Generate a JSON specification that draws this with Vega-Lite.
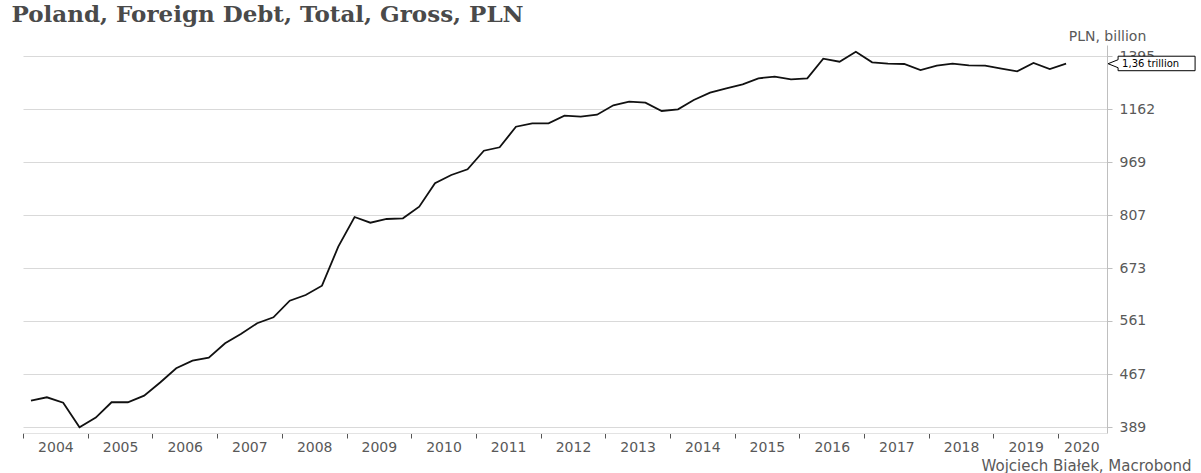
{
  "$schema": "https://vega.github.io/schema/vega-lite/v6.json",
  "width": 1084,
  "height": 388,
  "autosize": {"type": "none"},
  "padding": {"left": 23, "top": 45, "right": 94, "bottom": 40},
  "background": "white",
  "title": {
    "text": "Poland, Foreign Debt, Total, Gross, PLN",
    "anchor": "start",
    "font": "DejaVu Serif",
    "fontWeight": "bold",
    "fontSize": 23,
    "color": "#4a4a4a",
    "dx": -11,
    "offset": 2
  },
  "config": {
    "view": {"stroke": null},
    "axis": {"labelFont": "DejaVu Sans", "titleFont": "DejaVu Sans"}
  },
  "resolve": {"axis": {"x": "independent"}},
  "layer": [
    {
      "data": {
        "values": [
          {"date": "2004-02-15", "value": 426.3},
          {"date": "2004-05-15", "value": 431.3},
          {"date": "2004-08-15", "value": 423.4},
          {"date": "2004-11-15", "value": 389.0},
          {"date": "2005-02-15", "value": 402.1},
          {"date": "2005-05-15", "value": 424.0},
          {"date": "2005-08-15", "value": 424.0},
          {"date": "2005-11-15", "value": 433.7},
          {"date": "2006-02-15", "value": 454.2},
          {"date": "2006-05-15", "value": 476.6},
          {"date": "2006-08-15", "value": 489.2},
          {"date": "2006-11-15", "value": 494.3},
          {"date": "2007-02-15", "value": 519.4},
          {"date": "2007-05-15", "value": 536.3},
          {"date": "2007-08-15", "value": 556.5},
          {"date": "2007-11-15", "value": 568.1},
          {"date": "2008-02-15", "value": 601.5},
          {"date": "2008-05-15", "value": 613.4},
          {"date": "2008-08-15", "value": 633.3},
          {"date": "2008-11-15", "value": 724.4},
          {"date": "2009-02-15", "value": 802.3},
          {"date": "2009-05-15", "value": 786.7},
          {"date": "2009-08-15", "value": 796.8},
          {"date": "2009-11-15", "value": 798.7},
          {"date": "2010-02-15", "value": 831.3},
          {"date": "2010-05-15", "value": 901.0},
          {"date": "2010-08-15", "value": 927.1},
          {"date": "2010-11-15", "value": 945.5},
          {"date": "2011-02-15", "value": 1008.0},
          {"date": "2011-05-15", "value": 1019.9},
          {"date": "2011-08-15", "value": 1094.8},
          {"date": "2011-11-15", "value": 1107.7},
          {"date": "2012-02-15", "value": 1107.7},
          {"date": "2012-05-15", "value": 1137.0},
          {"date": "2012-08-15", "value": 1133.2},
          {"date": "2012-11-15", "value": 1141.0},
          {"date": "2013-02-15", "value": 1178.5},
          {"date": "2013-05-15", "value": 1193.2},
          {"date": "2013-08-15", "value": 1189.1},
          {"date": "2013-11-15", "value": 1155.6},
          {"date": "2014-02-15", "value": 1162.4},
          {"date": "2014-05-15", "value": 1200.2},
          {"date": "2014-08-15", "value": 1230.7},
          {"date": "2014-11-15", "value": 1249.5},
          {"date": "2015-02-15", "value": 1266.8},
          {"date": "2015-05-15", "value": 1293.3},
          {"date": "2015-08-15", "value": 1300.4},
          {"date": "2015-11-15", "value": 1288.8},
          {"date": "2016-02-15", "value": 1293.3},
          {"date": "2016-05-15", "value": 1383.5},
          {"date": "2016-08-15", "value": 1369.3},
          {"date": "2016-11-15", "value": 1417.3},
          {"date": "2017-02-15", "value": 1366.5},
          {"date": "2017-05-15", "value": 1359.9},
          {"date": "2017-08-15", "value": 1358.5},
          {"date": "2017-11-15", "value": 1330.7},
          {"date": "2018-02-15", "value": 1350.6},
          {"date": "2018-05-15", "value": 1359.9},
          {"date": "2018-08-15", "value": 1352.4},
          {"date": "2018-11-15", "value": 1350.6},
          {"date": "2019-02-15", "value": 1336.7},
          {"date": "2019-05-15", "value": 1324.8},
          {"date": "2019-08-15", "value": 1363.2},
          {"date": "2019-11-15", "value": 1335.3},
          {"date": "2020-02-15", "value": 1359.9}
        ]
      },
      "mark": {"type": "line", "color": "#111111", "strokeWidth": 1.8},
      "encoding": {
        "x": {
          "field": "date",
          "type": "temporal",
          "scale": {"domain": [{"year": 2004, "month": 1, "date": 1}, {"year": 2020, "month": 10, "date": 3}]},
          "axis": {
            "orient": "bottom",
            "values": [
              {"year": 2004, "month": 1, "date": 1}, {"year": 2005, "month": 1, "date": 1},
              {"year": 2006, "month": 1, "date": 1}, {"year": 2007, "month": 1, "date": 1},
              {"year": 2008, "month": 1, "date": 1}, {"year": 2009, "month": 1, "date": 1},
              {"year": 2010, "month": 1, "date": 1}, {"year": 2011, "month": 1, "date": 1},
              {"year": 2012, "month": 1, "date": 1}, {"year": 2013, "month": 1, "date": 1},
              {"year": 2014, "month": 1, "date": 1}, {"year": 2015, "month": 1, "date": 1},
              {"year": 2016, "month": 1, "date": 1}, {"year": 2017, "month": 1, "date": 1},
              {"year": 2018, "month": 1, "date": 1}, {"year": 2019, "month": 1, "date": 1},
              {"year": 2020, "month": 1, "date": 1}
            ],
            "labels": false,
            "ticks": true,
            "tickSize": 5,
            "tickColor": "#555555",
            "domainColor": "#e3e3e3",
            "grid": false,
            "title": null
          }
        },
        "y": {
          "field": "value",
          "type": "quantitative",
          "scale": {"type": "log", "domain": [381.4, 1450.4], "nice": false, "zero": false},
          "axis": {
            "orient": "right",
            "values": [389, 467, 561, 673, 807, 969, 1162, 1395],
            "format": "d",
            "grid": true,
            "gridColor": "#d9d9d9",
            "domainColor": "#bfbfbf",
            "tickColor": "#bfbfbf",
            "tickSize": 5,
            "labelPadding": 7,
            "labelFontSize": 14,
            "labelColor": "#595959",
            "title": "PLN, billion",
            "titleAngle": 0,
            "titleX": 0,
            "titleY": -9,
            "titleAlign": "center",
            "titleBaseline": "middle",
            "titleFontWeight": "normal",
            "titleFontSize": 14,
            "titleColor": "#595959"
          }
        }
      }
    },
    {
      "data": {"values": [{"date": "2020-02-15", "value": 1359.9, "label": "1,36 trillion"}]},
      "mark": {
        "type": "point",
        "shape": "M42,0L52,-4L52,-7.5L129,-7.5L129,7L52,7L52,4Z",
        "size": 4,
        "filled": true,
        "fill": "white",
        "stroke": "black",
        "strokeWidth": 1,
        "opacity": 1
      },
      "encoding": {
        "x": {
          "field": "date",
          "type": "temporal",
          "axis": {
            "orient": "bottom",
            "values": [
              {"year": 2004, "month": 7, "date": 2}, {"year": 2005, "month": 7, "date": 2},
              {"year": 2006, "month": 7, "date": 2}, {"year": 2007, "month": 7, "date": 2},
              {"year": 2008, "month": 7, "date": 2}, {"year": 2009, "month": 7, "date": 2},
              {"year": 2010, "month": 7, "date": 2}, {"year": 2011, "month": 7, "date": 2},
              {"year": 2012, "month": 7, "date": 2}, {"year": 2013, "month": 7, "date": 2},
              {"year": 2014, "month": 7, "date": 2}, {"year": 2015, "month": 7, "date": 2},
              {"year": 2016, "month": 7, "date": 2}, {"year": 2017, "month": 7, "date": 2},
              {"year": 2018, "month": 7, "date": 2}, {"year": 2019, "month": 7, "date": 2},
              {"year": 2020, "month": 5, "date": 11}
            ],
            "format": "%Y",
            "ticks": false,
            "domain": false,
            "grid": false,
            "labelPadding": 7,
            "labelFontSize": 14,
            "labelColor": "#595959",
            "labelFlush": false,
            "labelOverlap": false,
            "title": "Wojciech Białek, Macrobond",
            "titleX": 1168,
            "titleY": 32,
            "titleAlign": "right",
            "titleBaseline": "middle",
            "titleFontWeight": "normal",
            "titleFontSize": 15,
            "titleColor": "#595959"
          }
        },
        "y": {"field": "value", "type": "quantitative"}
      }
    },
    {
      "data": {"values": [{"date": "2020-02-15", "value": 1359.9, "label": "1,36 trillion"}]},
      "mark": {"type": "text", "align": "left", "baseline": "middle", "dx": 56, "font": "DejaVu Sans", "fontSize": 10, "color": "black"},
      "encoding": {
        "x": {"field": "date", "type": "temporal", "axis": null},
        "y": {"field": "value", "type": "quantitative"},
        "text": {"field": "label", "type": "nominal"}
      }
    }
  ]
}
